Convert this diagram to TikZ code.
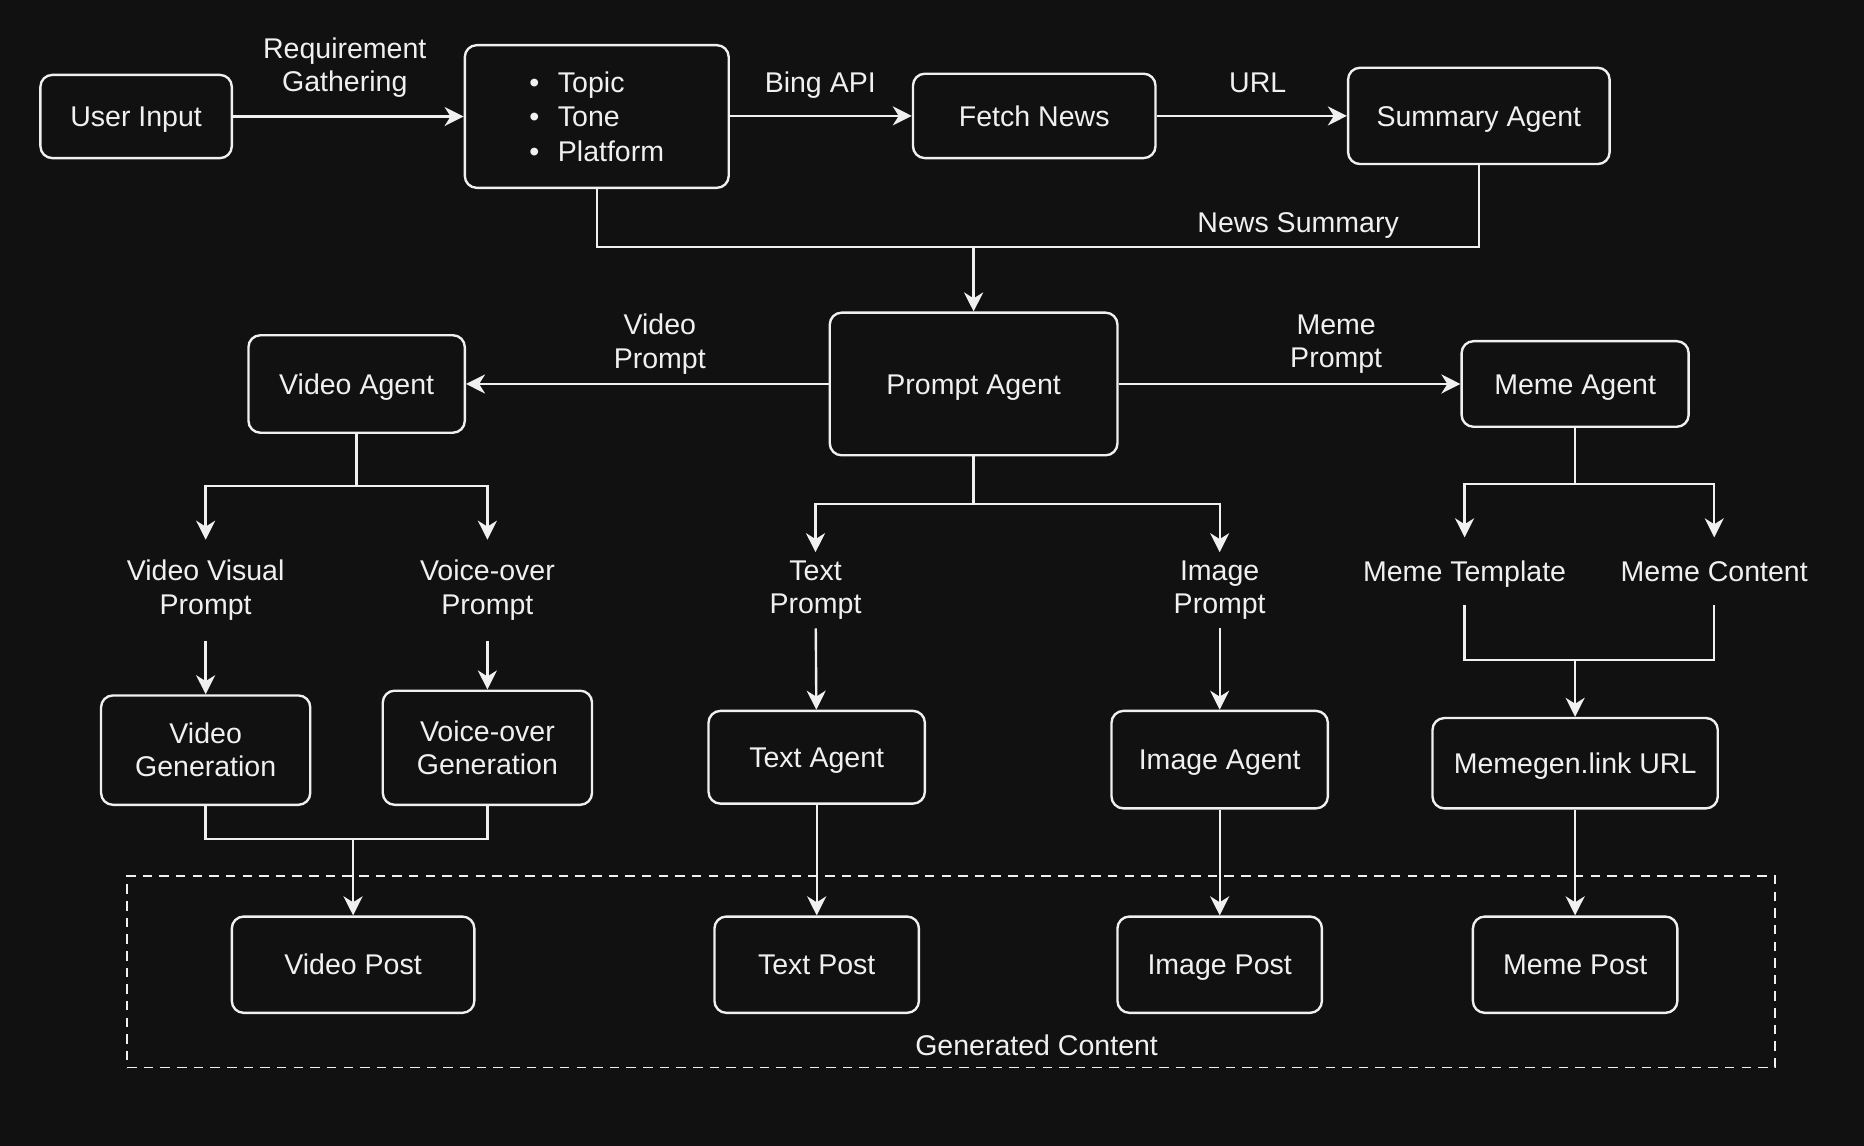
\documentclass[tikz,border=0pt]{standalone}
\usepackage{fontspec}
\setmainfont{Liberation Sans}
\usetikzlibrary{arrows.meta}
\definecolor{bgdark}{HTML}{111111}
\definecolor{fgline}{HTML}{F0F0F0}
\begin{document}
\begin{tikzpicture}[x=0.5pt, y=-0.5pt,
                line width=1pt, draw=fgline, text=fgline,
                font=\fontsize{12}{14}\selectfont,
                >={Stealth[length=8pt, width=8pt, inset=2.5pt]},
                box/.style={draw, rounded corners=5pt, align=center, inner sep=2pt},
                tag/.style={align=center, inner sep=0pt},
                oneline/.style={text height=9.6pt, text depth=1pt},
                group/.style={draw, dashed, dash pattern=on 4pt off 3pt, line width=0.8pt}]
                \fill [bgdark] (0, 0) rectangle (1568, 964);
                \node [group, minimum width=693pt, minimum height=80.5pt] (generated) at (800, 817.5) {};
                \node [tag, oneline] (generatedlabel) at (872, 879) {Generated Content};
                \node [box, oneline, minimum width=80.5pt, minimum height=35pt] (userinput) at (114.5, 98) {User Input};
                \node [box, minimum width=111pt, minimum height=60pt, align=left, font=\fontsize{12}{14.5}\selectfont] (topics) at (502, 98)
                    {\makebox[12pt][l]{\textbullet}Topic\\\makebox[12pt][l]{\textbullet}Tone\\\makebox[12pt][l]{\textbullet}Platform};
                \node [box, oneline, minimum width=102pt, minimum height=35.5pt] (fetchnews) at (870, 97.5) {Fetch News};
                \node [box, oneline, minimum width=110pt, minimum height=40.5pt] (summary) at (1244, 97.5) {Summary Agent};
                \node [box, oneline, minimum width=121pt, minimum height=60pt] (promptagent) at (819, 323) {Prompt Agent};
                \node [box, oneline, minimum width=91pt, minimum height=41pt] (videoagent) at (300, 323) {Video Agent};
                \node [box, oneline, minimum width=95.5pt, minimum height=36pt] (memeagent) at (1325, 323) {Meme Agent};
                \node [tag, minimum height=41.5pt] (visualprompt) at (173, 496.5) {Video Visual\\Prompt};
                \node [tag, minimum height=41.5pt] (voiceprompt) at (410, 496.5) {Voice-over\\Prompt};
                \node [tag, minimum height=31pt] (textprompt) at (686, 496.5) {Text\\Prompt};
                \node [tag, minimum height=31pt] (imageprompt) at (1026, 496.5) {Image\\Prompt};
                \node [tag, oneline, minimum height=27.5pt] (memetemplate) at (1232, 480.5) {Meme Template};
                \node [tag, oneline, minimum height=27.5pt] (memecontent) at (1442, 480.5) {Meme Content};
                \node [box, minimum width=88pt, minimum height=46pt] (videogen) at (173, 631) {Video\\Generation};
                \node [box, minimum width=88pt, minimum height=48pt] (voicegen) at (410, 629) {Voice-over\\Generation};
                \node [box, oneline, minimum width=91pt, minimum height=39pt] (textagent) at (687, 637) {Text Agent};
                \node [box, oneline, minimum width=91pt, minimum height=41pt] (imageagent) at (1026, 639) {Image Agent};
                \node [box, oneline, minimum width=120pt, minimum height=38pt] (memegen) at (1325, 642) {Memegen.link URL};
                \node [box, oneline, minimum width=102pt, minimum height=40.5pt] (videopost) at (297, 811.5) {Video Post};
                \node [box, oneline, minimum width=86pt, minimum height=40.5pt] (textpost) at (687, 811.5) {Text Post};
                \node [box, oneline, minimum width=86pt, minimum height=40.5pt] (imagepost) at (1026, 811.5) {Image Post};
                \node [box, oneline, minimum width=86pt, minimum height=40.5pt] (memepost) at (1325, 811.5) {Meme Post};
                \node [tag] (reqlabel) at (290, 57) {Requirement\\Gathering};
                \node [tag, oneline] (binglabel) at (690, 69) {Bing API};
                \node [tag, oneline] (urllabel) at (1058, 69) {URL};
                \node [tag, oneline] (newslabel) at (1092, 187) {News Summary};
                \node [tag] (videolabel) at (555, 289.5) {Video\\Prompt};
                \node [tag] (memelabel) at (1124, 289.5) {Meme\\Prompt};
                \coordinate (newsjoin) at (819, 208);
                \coordinate (videosplit) at (300, 409);
                \coordinate (promptsplit) at (819, 424);
                \coordinate (memesplit) at (1325, 407);
                \coordinate (videojoin) at (297, 706);
                \coordinate (memejoin) at (1325, 555);
                \draw [->] (userinput) -- (topics.west |- userinput);
                \draw [->] (topics.east |- fetchnews) -- (fetchnews);
                \draw [->] (fetchnews) -- (summary);
                \draw (topics.south) |- (newsjoin);
                \draw (summary.south) |- (newsjoin);
                \draw [->] (newsjoin) -- (promptagent.north);
                \draw [->] (promptagent) -- (videoagent);
                \draw [->] (promptagent) -- (memeagent);
                \draw [->] (videoagent.south) -- (videosplit) -| (visualprompt.north);
                \draw [->] (videosplit) -| (voiceprompt.north);
                \draw [->] (promptagent.south) -- (promptsplit) -| (textprompt.north);
                \draw [->] (promptsplit) -| (imageprompt.north);
                \draw [->] (memeagent.south) -- (memesplit) -| (memetemplate.north);
                \draw [->] (memesplit) -| (memecontent.north);
                \draw [->] (visualprompt) -- (videogen);
                \draw [->] (voiceprompt) -- (voicegen);
                \draw [->] (textprompt) -- (textagent);
                \draw [->] (imageprompt) -- (imageagent);
                \draw (memetemplate.south) |- (memejoin);
                \draw (memecontent.south) |- (memejoin);
                \draw [->] (memejoin) -- (memegen.north);
                \draw (videogen.south) |- (videojoin);
                \draw (voicegen.south) |- (videojoin);
                \draw [->] (videojoin) -- (videopost.north);
                \draw [->] (textagent) -- (textpost);
                \draw [->] (imageagent) -- (imagepost);
                \draw [->] (memegen) -- (memepost);
            \end{tikzpicture}
\end{document}
